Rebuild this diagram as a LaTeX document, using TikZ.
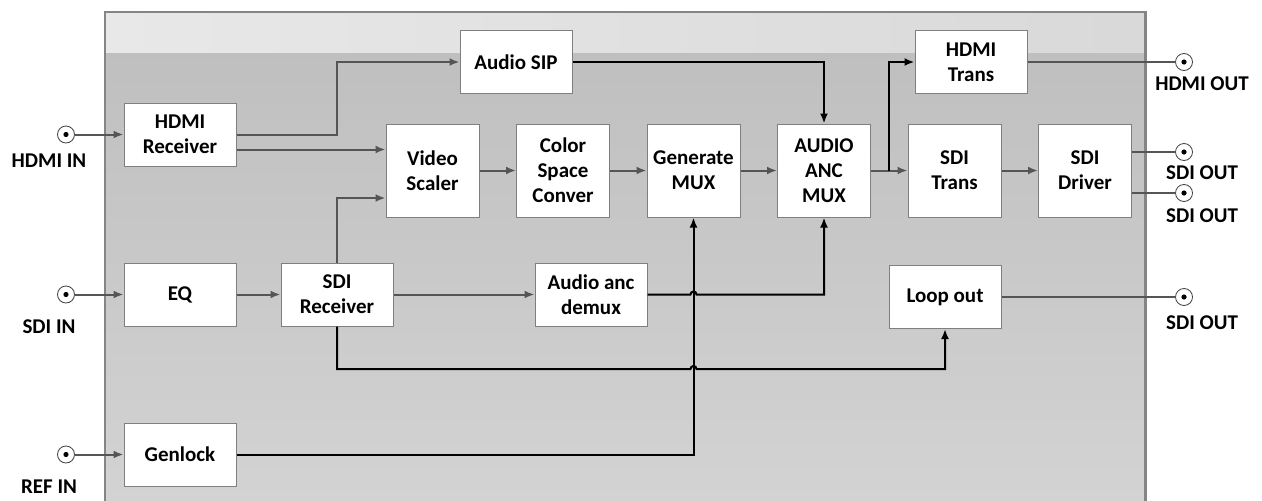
\documentclass[tikz,border=0pt]{standalone}
\usepackage{fontspec}
\setmainfont{Carlito}
\usetikzlibrary{arrows.meta}
\usepackage{xcolor}
\definecolor{linegray}{HTML}{555555}
\definecolor{boxgray}{HTML}{7F7F7F}
\definecolor{panelgray}{HTML}{858585}

\begin{document}
\begin{tikzpicture}[x=1pt,y=-1pt,
 blk/.style={draw=boxgray, fill=white, line width=1pt, align=center, inner sep=0pt,
   font=\fontsize{21}{25}\selectfont\bfseries},
 wide/.style={blk, minimum width=112pt, minimum height=63pt},
 sq/.style={blk, minimum width=93pt, minimum height=93pt},
 jack/.style={circle, draw=black!75, fill=white, line width=.8pt, minimum size=17pt, inner sep=0pt,
   path picture={\fill[black] (path picture bounding box.center) circle (2.6pt);}},
 lbl/.style={inner sep=0pt, font=\fontsize{21}{25}\selectfont\bfseries},
 garrow/.style={linegray, line width=2pt, -{Latex[length=10pt,width=8pt]}},
 gline/.style={linegray, line width=2pt},
 barrow/.style={black, line width=2pt, -{Latex[length=10pt,width=8pt]}}]
\useasboundingbox (0,0) rectangle (1262,501);
\fill[left color=black!9, right color=black!15] (105,12) rectangle (1145,53);
\fill[top color=black!25, bottom color=black!17] (105,53) rectangle (1145,515);
\draw[panelgray, line width=2pt] (105,515) -- (105,12) -- (1145,12);
\draw[panelgray, line width=3pt] (1145,11) -- (1145,515);

\node[wide] (hdmirx) at (180,134.5) {HDMI\\Receiver};
\node[wide] (eq) at (180,294.5) {EQ};
\node[wide] (genlock) at (180,454.5) {Genlock};
\node[wide] (sdirx) at (337,294.5) {SDI\\Receiver};
\node[wide] (audiosip) at (516,62) {Audio SIP};
\node[wide] (ancdemux) at (591,294.5) {Audio anc\\demux};
\node[wide] (hdmitx) at (971,62) {HDMI\\Trans};
\node[wide] (loopout) at (945,297) {Loop out};
\node[sq] (vscaler) at (432.5,170.5) {Video\\Scaler};
\node[sq] (csc) at (563,170.5) {Color\\Space\\Conver};
\node[sq] (genmux) at (693.5,170.5) {Generate\\MUX};
\node[sq] (ancmux) at (824,170.5) {AUDIO\\ANC\\MUX};
\node[sq] (sditx) at (954.5,170.5) {SDI\\Trans};
\node[sq] (sdidrv) at (1085,170.5) {SDI\\Driver};

\node[jack] (hdmiin) at (66,134.5) {};
\node[jack] (sdiin) at (66,294.5) {};
\node[jack] (refin) at (66,454.5) {};
\node[jack] (hdmiout) at (1184,62) {};
\node[jack] (sdiout1) at (1184,152) {};
\node[jack] (sdiout2) at (1184,193) {};
\node[jack] (sdiout3) at (1184,297) {};
\node[lbl] (hdmiinl) at (49,161) {HDMI IN};
\node[lbl] (sdiinl) at (49,327) {SDI IN};
\node[lbl] (refinl) at (49,487) {REF IN};
\node[lbl] (hdmioutl) at (1202,84) {HDMI OUT};
\node[lbl] (sdioutl1) at (1202,173) {SDI OUT};
\node[lbl] (sdioutl2) at (1202,216) {SDI OUT};
\node[lbl] (sdioutl3) at (1202,323) {SDI OUT};

\foreach \a/\b in {hdmiin/hdmirx, sdiin/eq, refin/genlock, eq/sdirx, sdirx/ancdemux,
  vscaler/csc, csc/genmux, genmux/ancmux, ancmux/sditx, sditx/sdidrv}
 \draw[garrow] (\a) -- (\b);
\foreach \a/\b in {hdmitx/hdmiout, loopout/sdiout3}
 \draw[gline] (\a) -- (\b);
\foreach \b in {sdiout1, sdiout2}
 \draw[gline] (sdidrv.east |- \b) -- (\b);

\draw[garrow] (hdmirx.east) -- (hdmirx.east -| sdirx.north) |- (audiosip.west);
\draw[garrow] ([yshift=-15pt]hdmirx.east) -- ([yshift=-15pt]hdmirx.east -| vscaler.west);
\draw[garrow] (sdirx.north) |- ([yshift=-27.5pt]vscaler.west);

\coordinate (ancbr) at (889,170.5);
\coordinate (lp) at (337,369);
\draw[barrow] (audiosip.east) -| (ancmux.north);
\draw[barrow] (ancbr) |- (hdmitx.west);
\draw[barrow] (genlock.east) -| (genmux.south);
\draw[barrow] (ancdemux.east) -- ([xshift=-3pt]ancdemux.east -| genmux.south)
  arc[start angle=180, end angle=0, radius=3pt] -| (ancmux.south);
\draw[barrow] (sdirx.south) -- (lp) -- ([xshift=-3pt]lp -| genmux.south)
  arc[start angle=180, end angle=0, radius=3pt] -| (loopout.south);
\end{tikzpicture}
\end{document}
